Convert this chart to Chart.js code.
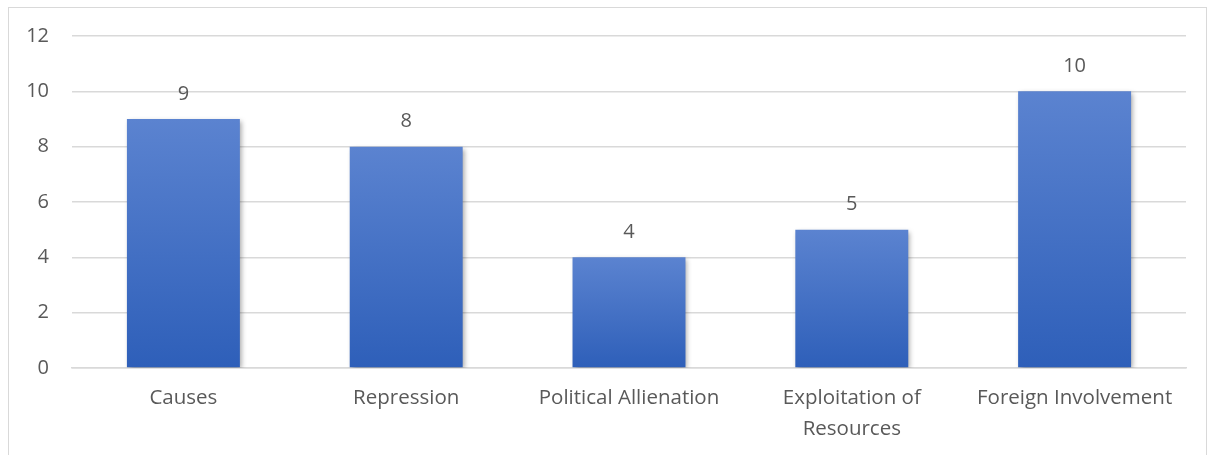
<!DOCTYPE html>
<html><head><meta charset="utf-8">
<script src="https://cdn.jsdelivr.net/npm/chart.js@4"></script>
<style>
html,body{margin:0;padding:0;background:#fff;}
#wrap{position:absolute;left:0;top:0;width:1215px;height:455px;}
#frame{position:absolute;left:8px;top:7px;width:1199px;height:460px;border:1px solid #d9d9d9;box-sizing:border-box;}
canvas{position:absolute;left:0;top:0;}
</style></head>
<body>
<div id="wrap"><div id="frame"></div><canvas id="c" width="1215" height="455"></canvas></div>
<script>
const categories = ["Causes", "Repression", "Political Allienation", ["Exploitation of", "Resources"], "Foreign Involvement"];
const values = [9, 8, 4, 5, 10];
const yTicks = [0, 2, 4, 6, 8, 10, 12];

const FONT = "'Open Sans', Lato, sans-serif";
const TXT = '#595959';

const shadowPlugin = {
  id: 'shadow',
  beforeDatasetDraw(chart) {
    const ctx = chart.ctx; ctx.save();
    ctx.shadowColor = 'rgba(0,0,0,0.35)';
    ctx.shadowBlur = 5; ctx.shadowOffsetX = 2; ctx.shadowOffsetY = 2;
  },
  afterDatasetDraw(chart) { chart.ctx.restore(); }
};
const labelPlugin = {
  id: 'vlabels',
  afterDatasetsDraw(chart) {
    const ctx = chart.ctx; ctx.save();
    ctx.font = "20px " + FONT; ctx.fillStyle = TXT;
    ctx.textAlign = 'center'; ctx.textBaseline = 'middle';
    chart.getDatasetMeta(0).data.forEach((bar, i) => {
      ctx.fillText(String(values[i]), bar.x, bar.y - 25);
    });
    ctx.restore();
  }
};

new Chart(document.getElementById('c'), {
  type: 'bar',
  data: {
    labels: categories,
    datasets: [{
      data: values,
      barPercentage: 0.507,
      categoryPercentage: 1,
      borderWidth: 0,
      backgroundColor(ctx) {
        const chart = ctx.chart; const ys = chart.scales.y;
        if (!ys || !chart.chartArea) return '#4472c4';
        const top = ys.getPixelForValue(ctx.raw); const bot = ys.getPixelForValue(0);
        if (!isFinite(top) || top === bot) return '#4472c4';
        const g = chart.ctx.createLinearGradient(0, top, 0, bot);
        g.addColorStop(0, '#5b83d0'); g.addColorStop(1, '#2e5fb9');
        return g;
      }
    }]
  },
  plugins: [shadowPlugin, labelPlugin],
  options: {
    responsive: false, animation: false,
    layout: { padding: { left: 0, right: 29, top: 36, bottom: 0 } },
    plugins: { legend: { display: false }, tooltip: { enabled: false } },
    scales: {
      x: {
        grid: { display: false, drawTicks: false },
        border: { color: '#d9d9d9', width: 1.5 },
        ticks: { color: TXT, font: { family: FONT, size: 20.5, lineHeight: 1.5 }, padding: 15, maxRotation: 0, autoSkip: false },
        afterFit(s) { s.height = 87; }
      },
      y: {
        min: 0, max: 12,
        afterBuildTicks(s) { s.ticks = yTicks.map(v => ({ value: v })); },
        grid: { color: '#d9d9d9', lineWidth: 1.5, drawTicks: false },
        border: { display: false },
        ticks: { color: TXT, font: { family: FONT, size: 20 }, padding: 23 },
        afterFit(s) { s.width = 72; }
      }
    }
  }
});
</script>
</body></html>
